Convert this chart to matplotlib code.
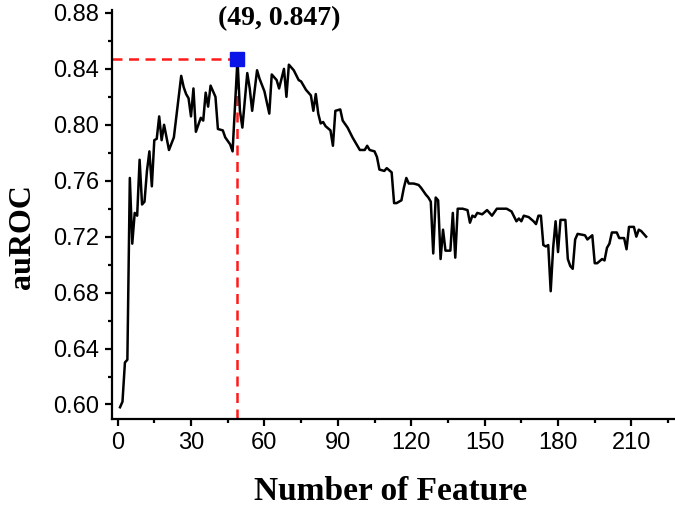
import numpy as np
import matplotlib
matplotlib.use("Agg")
import matplotlib.pyplot as plt
from matplotlib.ticker import MultipleLocator

# number of features vs auROC
features = [1, 2, 3, 4, 5, 6, 7, 8, 9, 10,
            11, 12, 13, 14, 15, 16, 17, 18, 19, 21,
            23, 26, 27, 28, 29, 30, 31, 32, 34, 35,
            36, 37, 38, 40, 41, 43, 44, 46, 47, 49,
            50, 51, 53, 54, 55, 57, 58, 60, 62, 63,
            65, 66, 68, 69, 70, 72, 74, 75, 77, 79,
            80, 81, 82, 83, 84, 85, 87, 88, 89, 91,
            92, 94, 96, 99, 101, 102, 103, 105, 106, 107,
            109, 110, 112, 113, 114, 116, 117, 118, 119, 121,
            123, 124, 126, 127, 128, 129, 130, 131, 132, 133,
            134, 136, 137, 138, 139, 141, 143, 144, 145, 146,
            147, 149, 151, 153, 155, 159, 161, 163, 164, 165,
            166, 168, 170, 171, 172, 173, 174, 175, 176, 177,
            178, 179, 180, 181, 183, 184, 185, 186, 187, 188,
            191, 192, 194, 195, 196, 198, 199, 200, 201, 202,
            204, 205, 207, 208, 209, 211, 212, 213, 214, 216]
auroc = [0.598, 0.602, 0.630, 0.632, 0.762, 0.715, 0.737, 0.735, 0.775, 0.743,
         0.745, 0.767, 0.781, 0.756, 0.789, 0.790, 0.806, 0.789, 0.800, 0.782,
         0.791, 0.835, 0.827, 0.822, 0.819, 0.806, 0.826, 0.795, 0.805, 0.803,
         0.823, 0.813, 0.828, 0.820, 0.797, 0.796, 0.791, 0.786, 0.781, 0.847,
         0.810, 0.798, 0.837, 0.826, 0.810, 0.839, 0.833, 0.824, 0.808, 0.836,
         0.832, 0.826, 0.840, 0.820, 0.843, 0.839, 0.832, 0.831, 0.825, 0.821,
         0.810, 0.822, 0.808, 0.801, 0.802, 0.799, 0.796, 0.785, 0.810, 0.811,
         0.803, 0.798, 0.791, 0.782, 0.782, 0.785, 0.782, 0.781, 0.777, 0.768,
         0.767, 0.769, 0.766, 0.744, 0.744, 0.746, 0.755, 0.762, 0.758, 0.758,
         0.757, 0.755, 0.750, 0.748, 0.745, 0.708, 0.748, 0.746, 0.704, 0.725,
         0.710, 0.710, 0.737, 0.705, 0.740, 0.740, 0.739, 0.730, 0.735, 0.734,
         0.737, 0.736, 0.739, 0.735, 0.740, 0.740, 0.738, 0.731, 0.733, 0.731,
         0.735, 0.734, 0.731, 0.729, 0.735, 0.735, 0.714, 0.713, 0.714, 0.681,
         0.712, 0.731, 0.709, 0.732, 0.732, 0.704, 0.699, 0.697, 0.718, 0.722,
         0.721, 0.718, 0.721, 0.701, 0.701, 0.704, 0.703, 0.712, 0.715, 0.723,
         0.723, 0.719, 0.719, 0.711, 0.727, 0.727, 0.720, 0.725, 0.724, 0.720]

x_ticks = [0, 30, 60, 90, 120, 150, 180, 210]
y_ticks = [0.60, 0.64, 0.68, 0.72, 0.76, 0.80, 0.84, 0.88]

i_best = int(np.argmax(auroc))
best_n = features[i_best]
best_auc = auroc[i_best]

sans = ["Liberation Sans", "DejaVu Sans"]
serif = ["Liberation Serif", "DejaVu Serif"]

fig = plt.figure(figsize=(6.75, 5.07), dpi=100)
ax = fig.add_axes([0.1655, 0.173, 0.8345, 0.807])

ax.plot(features, auroc, color="black", lw=1.8, zorder=3)

x_lo, x_hi = -2.4, 227.8
y_lo, y_hi = 0.5894, 0.882
ax.set_xlim(x_lo, x_hi)
ax.set_ylim(y_lo, y_hi)

# red guide lines to the best point
ax.hlines(best_auc, x_lo, best_n, colors="#ff1a1a", linestyles=(0, (4, 2.6)), lw=1.8, zorder=2)
ax.vlines(best_n, y_lo, best_auc, colors="#ff1a1a", linestyles=(0, (4, 2.6)), lw=1.8, zorder=2)
ax.plot([best_n], [best_auc], marker="s", ms=9.5, color="#0a14e6", ls="none", zorder=4, clip_on=False)
ax.text(best_n + 17, best_auc + 0.029, "(%d, %.3f)" % (best_n, best_auc),
        family=serif, fontweight="bold", fontsize=20, ha="center", va="center")

ax.set_xticks(x_ticks)
ax.set_yticks(y_ticks)
ax.set_yticklabels(["%.2f" % v for v in y_ticks])
ax.xaxis.set_minor_locator(MultipleLocator(15))
ax.yaxis.set_minor_locator(MultipleLocator(0.02))
ax.tick_params(which="major", direction="out", length=5, width=1.6, labelsize=17, pad=4)
ax.tick_params(which="minor", direction="out", length=3, width=1.6)
for lab in ax.get_xticklabels() + ax.get_yticklabels():
    lab.set_family(sans)

for s in ["top", "right"]:
    ax.spines[s].set_visible(False)
for s in ["left", "bottom"]:
    ax.spines[s].set_linewidth(1.6)

fig.text(390.5 / 675, 1 - 499.5 / 507, "Number of Feature", family=serif,
         fontweight="bold", fontsize=24, ha="center", va="baseline")
fig.text(22.5 / 675, 1 - 236.7 / 507, "auROC", family=serif, rotation=90,
         fontweight="bold", fontsize=23, ha="center", va="center")

fig.savefig("out.png", dpi=100)
